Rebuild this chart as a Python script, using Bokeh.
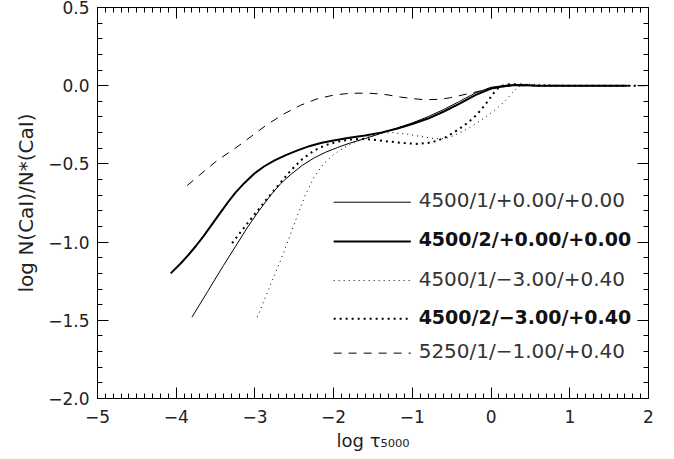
from bokeh.plotting import figure
from bokeh.models import Range1d, LinearAxis, SingleIntervalTicker, CustomJSTickFormatter, Label
from bokeh.embed import file_html
from bokeh.resources import INLINE

# ---------------- data ----------------
thin_solid_x = [-3.80, -3.60, -3.40, -3.25, -3.10, -2.95, -2.80, -2.675, -2.55, -2.40,
                -2.25, -2.10, -1.95, -1.80, -1.60, -1.40, -1.20, -1.00, -0.80, -0.60,
                -0.40, -0.20, 0.00, 0.20, 0.35, 0.60, 1.00, 1.73]
thin_solid_y = [-1.48, -1.315, -1.15, -1.03, -0.91, -0.80, -0.70, -0.627, -0.57, -0.51,
                -0.462, -0.425, -0.395, -0.368, -0.338, -0.305, -0.272, -0.238, -0.198, -0.152,
                -0.10, -0.047, -0.01, 0.003, 0.006, 0.0, 0.0, 0.0]

thick_solid_x = [-4.07, -3.95, -3.85, -3.75, -3.65, -3.55, -3.45, -3.35, -3.25, -3.13,
                 -3.01, -2.88, -2.75, -2.60, -2.45, -2.30, -2.15, -2.00, -1.80, -1.60,
                 -1.40, -1.20, -1.00, -0.80, -0.60, -0.40, -0.20, 0.00, 0.20, 0.35,
                 0.60, 1.00, 1.73]
thick_solid_y = [-1.20, -1.14, -1.085, -1.025, -0.96, -0.89, -0.82, -0.75, -0.685, -0.62,
                 -0.563, -0.515, -0.478, -0.442, -0.412, -0.385, -0.365, -0.35, -0.333, -0.318,
                 -0.30, -0.275, -0.245, -0.21, -0.165, -0.115, -0.06, -0.018, 0.0, 0.005,
                 0.0, 0.0, 0.0]

thin_dot_x = [-2.97, -2.88, -2.78, -2.675, -2.57, -2.46, -2.36, -2.25, -2.13, -2.00,
              -1.85, -1.70, -1.55, -1.40, -1.25, -1.065, -0.90, -0.75, -0.64, -0.55,
              -0.47, -0.38, -0.30, -0.13, 0.04, 0.13, 0.21, 0.28, 0.33, 0.40,
              0.50, 1.00, 1.85]
thin_dot_y = [-1.48, -1.37, -1.245, -1.118, -0.98, -0.83, -0.70, -0.585, -0.50, -0.44,
              -0.39, -0.352, -0.322, -0.303, -0.300, -0.31, -0.324, -0.336, -0.34, -0.333,
              -0.318, -0.297, -0.276, -0.222, -0.159, -0.12, -0.08, -0.04, -0.015, 0.008,
              0.01, 0.0, 0.0]

thick_dot_x = [-3.29, -3.15, -3.00, -2.85, -2.70, -2.55, -2.40, -2.25, -2.10, -1.95,
               -1.80, -1.66, -1.50, -1.28, -1.10, -0.94, -0.80, -0.685, -0.57, -0.47,
               -0.35, -0.22, -0.12, -0.05, 0.02, 0.08, 0.15, 0.21, 0.30, 0.60,
               1.00, 1.85]
thick_dot_y = [-1.007, -0.915, -0.82, -0.725, -0.635, -0.545, -0.47, -0.415, -0.38, -0.358,
               -0.345, -0.34, -0.345, -0.358, -0.367, -0.372, -0.366, -0.352, -0.328, -0.298,
               -0.257, -0.205, -0.15, -0.105, -0.055, -0.02, 0.0, 0.008, 0.01, 0.0,
               0.0, 0.0]

dash_x = [-3.86, -3.70, -3.48, -3.25, -3.06, -2.85, -2.63, -2.42, -2.21, -2.00,
          -1.785, -1.55, -1.36, -1.15, -0.855, -0.65, -0.515, -0.30, -0.10, 0.10,
          0.30, 0.60, 1.00, 1.97]
dash_y = [-0.638, -0.57, -0.478, -0.40, -0.329, -0.25, -0.18, -0.125, -0.084, -0.06,
          -0.048, -0.048, -0.055, -0.073, -0.09, -0.087, -0.077, -0.052, -0.03, -0.01,
          0.0, 0.0, 0.0, 0.0]

series_labels = ["4500/1/+0.00/+0.00", "4500/2/+0.00/+0.00", "4500/1/\u22123.00/+0.40",
                 "4500/2/\u22123.00/+0.40", "5250/1/\u22121.00/+0.40"]

# ---------------- styles ----------------
styles = [
    dict(line_width=1.0, line_dash="solid"),
    dict(line_width=2.0, line_dash="solid"),
    dict(line_width=1.0, line_dash="1 4"),
    dict(line_width=2.0, line_dash="2 4"),
    dict(line_width=1.0, line_dash="8 7"),
]
series = [(thin_solid_x, thin_solid_y), (thick_solid_x, thick_solid_y),
          (thin_dot_x, thin_dot_y), (thick_dot_x, thick_dot_y), (dash_x, dash_y)]

FONT = "DejaVu Sans"

p = figure(width=674, height=459, output_backend="svg", toolbar_location=None,
           x_range=Range1d(-5, 2), y_range=Range1d(-2, 0.5),
           min_border_left=97, min_border_right=26, min_border_top=7, min_border_bottom=61,
           x_axis_label="log \u03c4\u2085\u2080\u2080\u2080",
           y_axis_label="log N(CaI)/N*(CaI)")
p.grid.visible = False
p.outline_line_color = "black"
p.background_fill_color = "white"
p.border_fill_color = "white"

xfmt = CustomJSTickFormatter(code="""
const v = Math.round(tick);
return (v < 0 ? "\\u2212" : "") + Math.abs(v).toFixed(0);
""")
yfmt = CustomJSTickFormatter(code="""
const v = Math.round(tick * 10) / 10;
return (v < 0 ? "\\u2212" : "") + Math.abs(v).toFixed(1);
""")

def style_axis(ax, labels=True):
    ax.major_tick_in = 11
    ax.major_tick_out = 0
    ax.minor_tick_in = 5
    ax.minor_tick_out = 0
    ax.axis_line_color = "black"
    ax.major_tick_line_color = "black"
    ax.minor_tick_line_color = "black"
    if labels:
        ax.major_label_text_font = FONT
        ax.major_label_text_font_size = "17px"
        ax.major_label_text_color = "#222222"
        ax.axis_label_text_font = FONT
        ax.axis_label_text_font_style = "normal"
        ax.axis_label_text_color = "#222222"
    else:
        ax.major_label_text_color = None
        ax.major_label_standoff = 0

xax = p.xaxis[0]
yax = p.yaxis[0]
xax.ticker = SingleIntervalTicker(interval=1, num_minor_ticks=10)
yax.ticker = SingleIntervalTicker(interval=0.5, num_minor_ticks=5)
xax.formatter = xfmt
yax.formatter = yfmt
style_axis(xax)
style_axis(yax)
xax.axis_label_text_font_size = "18px"
yax.axis_label_text_font_size = "20px"
xax.major_label_standoff = 11
xax.axis_label_standoff = 4
yax.major_label_standoff = 8
yax.axis_label_standoff = 7

top = LinearAxis(ticker=SingleIntervalTicker(interval=1, num_minor_ticks=10))
right = LinearAxis(ticker=SingleIntervalTicker(interval=0.5, num_minor_ticks=5))
style_axis(top, labels=False)
style_axis(right, labels=False)
p.add_layout(top, "above")
p.add_layout(right, "right")

# ---------------- curves ----------------
for (xs, ys), st in zip(series, styles):
    p.line(xs, ys, line_color="black", **st)

# ---------------- legend (drawn by hand, like the original) ----------------
leg_x0, leg_x1, leg_tx = -2.0, -1.02, -0.92
leg_rows = [-0.745, -0.996, -1.246, -1.49, -1.71]
for lab, st, ry, bold in zip(series_labels, styles, leg_rows, [False, True, False, True, False]):
    p.line([leg_x0, leg_x1], [ry, ry], line_color="black", **st)
    p.add_layout(Label(x=leg_tx, y=ry, text=lab, text_baseline="middle", y_offset=2,
                       text_font=FONT, text_font_size="19px" if bold else "20px",
                       text_font_style="bold" if bold else "normal",
                       text_color="#111111" if bold else "#333333"))

open("out.html", "w").write(file_html(p, INLINE))
